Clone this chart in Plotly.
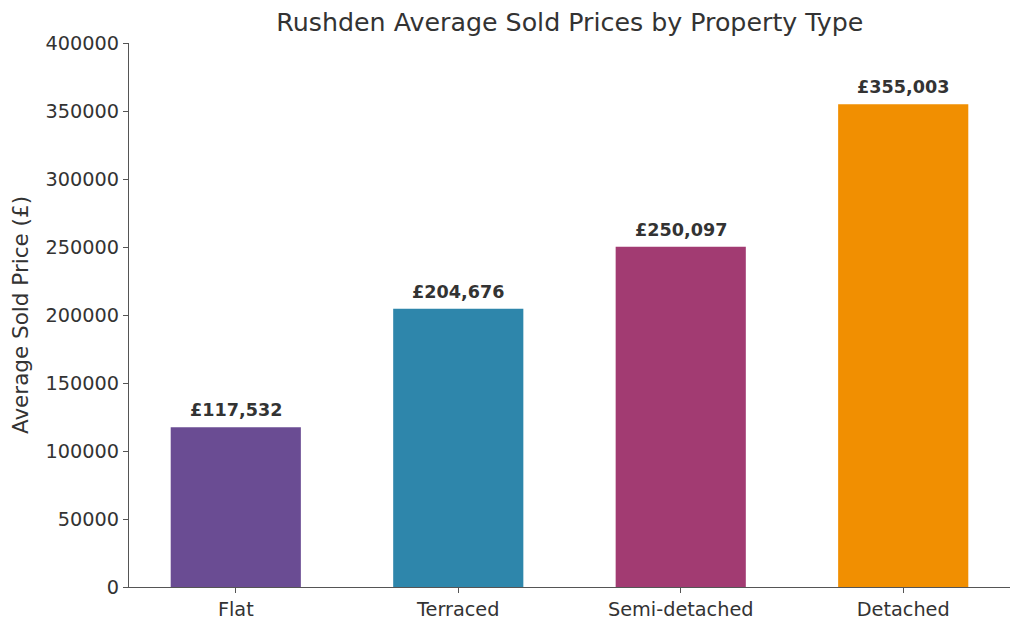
import plotly.graph_objects as go

# Rushden average sold prices by property type
property_types = ['Flat', 'Terraced', 'Semi-detached', 'Detached']
avg_prices = [117532, 204676, 250097, 355003]
bar_colors = ['#6A4C93', '#2E86AB', '#A23B72', '#F18F01']
y_ticks = [0, 50000, 100000, 150000, 200000, 250000, 300000, 350000, 400000]

text_col = '#333333'
axis_col = '#555555'
font_name = 'DejaVu Sans'

fig = go.Figure(go.Bar(
    x=property_types,
    y=avg_prices,
    width=0.585,
    marker=dict(color=bar_colors, line=dict(width=0)),
    hovertemplate='%{x}: £%{y:,}<extra></extra>',
))

# value labels above the bars
for cat, val in zip(property_types, avg_prices):
    fig.add_annotation(
        x=cat, y=val, text='£{:,}'.format(val),
        showarrow=False, yanchor='bottom', yshift=5,
        font=dict(family=font_name, size=17.6, color=text_col, weight='bold'),
    )

# the page body has an 8px margin, so the figure is 8px smaller than the window
fig.update_layout(
    width=1016,
    height=625,
    margin=dict(l=119, r=14, t=35, b=46),
    paper_bgcolor='white',
    plot_bgcolor='white',
    showlegend=False,
    font=dict(family=font_name, color=text_col),
    title=dict(
        text='Rushden Average Sold Prices by Property Type',
        x=0.553, xanchor='center',
        y=0.977, yanchor='middle',
        font=dict(size=25.3, color=text_col),
    ),
    xaxis=dict(
        range=[-0.48, 3.48],
        showline=True, linecolor=axis_col, linewidth=1.3,
        ticks='outside', ticklen=5, tickwidth=1.3, tickcolor=axis_col,
        tickfont=dict(size=19.3, color=text_col),
        showgrid=False, zeroline=False,
    ),
    yaxis=dict(
        range=[0, 400000],
        tickvals=y_ticks,
        ticktext=[str(v) for v in y_ticks],
        showline=True, linecolor=axis_col, linewidth=1.3,
        ticks='outside', ticklen=5, tickwidth=1.3, tickcolor=axis_col,
        tickfont=dict(size=19.3, color=text_col),
        showgrid=False, zeroline=False,
        title=dict(text='Average Sold Price (£)', font=dict(size=21.5, color=text_col), standoff=10),
    ),
)

fig.write_html('out.html')
